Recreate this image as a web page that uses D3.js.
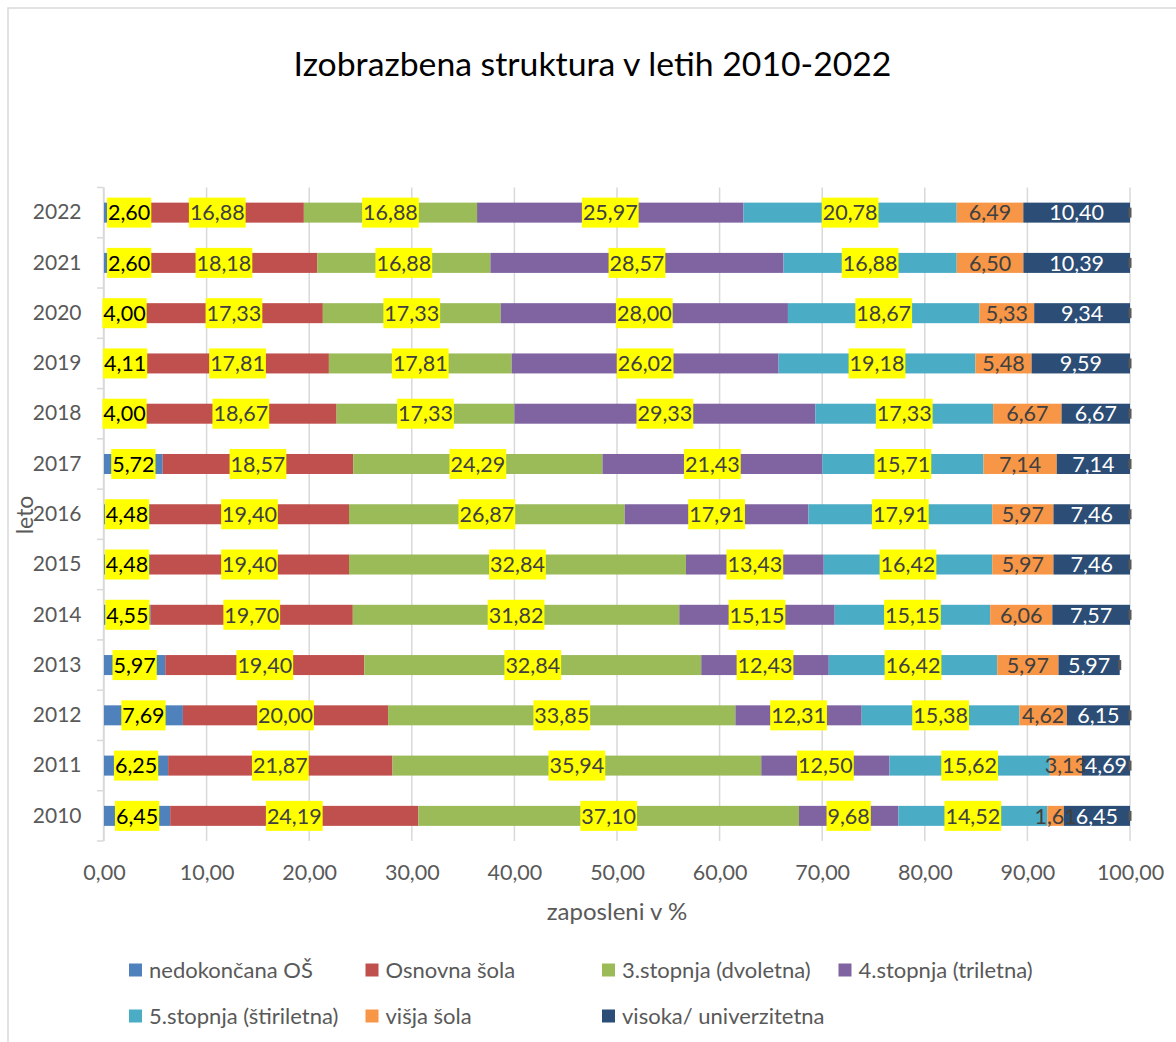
<!DOCTYPE html>
<html>
<head>
<meta charset="utf-8">
<script src="https://cdn.jsdelivr.net/npm/d3@7"></script>
<style>
  html, body { margin: 0; padding: 0; background: #fff; }
  svg { display: block; font-family: Lato, "Open Sans", sans-serif; }
</style>
</head>
<body>
<figure id="chart" style="margin:0"></figure>
<script>
// data (years bottom -> top)
const years = ["2010", "2011", "2012", "2013", "2014", "2015", "2016", "2017", "2018", "2019", "2020", "2021", "2022"];
const seriesNames = ["nedokončana OŠ", "Osnovna šola", "3.stopnja (dvoletna)", "4.stopnja (triletna)",
                     "5.stopnja (štiriletna)", "višja šola", "visoka/ univerzitetna"];
const nedokoncana = [6.45, 6.25, 7.69, 5.97, 4.55, 4.48, 4.48, 5.72, 4.00, 4.11, 4.00, 2.60, 2.60];
const osnovna     = [24.19, 21.87, 20.00, 19.40, 19.70, 19.40, 19.40, 18.57, 18.67, 17.81, 17.33, 18.18, 16.88];
const stopnja3    = [37.10, 35.94, 33.85, 32.84, 31.82, 32.84, 26.87, 24.29, 17.33, 17.81, 17.33, 16.88, 16.88];
const stopnja4    = [9.68, 12.50, 12.31, 12.43, 15.15, 13.43, 17.91, 21.43, 29.33, 26.02, 28.00, 28.57, 25.97];
const stopnja5    = [14.52, 15.62, 15.38, 16.42, 15.15, 16.42, 17.91, 15.71, 17.33, 19.18, 18.67, 16.88, 20.78];
const visja       = [1.61, 3.13, 4.62, 5.97, 6.06, 5.97, 5.97, 7.14, 6.67, 5.48, 5.33, 6.50, 6.49];
const visoka      = [6.45, 4.69, 6.15, 5.97, 7.57, 7.46, 7.46, 7.14, 6.67, 9.59, 9.34, 10.39, 10.40];
const xTicks = [0, 10, 20, 30, 40, 50, 60, 70, 80, 90, 100];

const colors = ["#4f81bd", "#c0504d", "#9bbb59", "#8064a2", "#4bacc6", "#f79646", "#2c4d75"];

const W = 1176, H = 1042;
const plotLeft = 104, plotRight = 1130, plotTop = 187.5, plotBottom = 841;

const allSeries = [nedokoncana, osnovna, stopnja3, stopnja4, stopnja5, visja, visoka];
const rows = years.map((yr, i) => {
  const r = { year: yr };
  seriesNames.forEach((s, k) => r[s] = allSeries[k][i]);
  return r;
});

const fmt = v => d3.format(".2f")(v).replace(".", ",");

const svg = d3.select("#chart").append("svg")
  .attr("width", W)
  .attr("height", H);

// chart border
svg.append("rect")
  .attr("x", 8).attr("y", 8)
  .attr("width", W + 10).attr("height", H + 10)
  .attr("fill", "none")
  .attr("stroke", "#d9d9d9")
  .attr("stroke-width", 1.5);

const x = d3.scaleLinear().domain([0, 100]).range([plotLeft, plotRight]);
const y = d3.scaleBand().domain(years.slice().reverse()).range([plotTop, plotBottom]);
const barH = 20;

// gridlines
svg.append("g")
  .selectAll("line")
  .data(xTicks)
  .join("line")
  .attr("x1", d => x(d)).attr("x2", d => x(d))
  .attr("y1", plotTop).attr("y2", plotBottom)
  .attr("stroke", "#d9d9d9")
  .attr("stroke-width", 1.5);

// y axis line + ticks between categories
svg.append("line")
  .attr("x1", plotLeft - 0.5).attr("x2", plotLeft - 0.5)
  .attr("y1", plotTop).attr("y2", plotBottom)
  .attr("stroke", "#d9d9d9").attr("stroke-width", 1.5);

const bounds = years.map((d, i) => plotTop + i * y.step()).concat([plotBottom]);
svg.append("g")
  .selectAll("line")
  .data(bounds)
  .join("line")
  .attr("x1", plotLeft - 7).attr("x2", plotLeft - 0.5)
  .attr("y1", d => d).attr("y2", d => d)
  .attr("stroke", "#d9d9d9").attr("stroke-width", 1.5);

// y labels
const yAxis = svg.append("g")
  .attr("transform", `translate(${plotLeft - 0.5},0)`)
  .call(d3.axisLeft(y).tickSize(0).tickPadding(22));
yAxis.select(".domain").remove();
yAxis.selectAll("text")
  .attr("fill", "#595959")
  .style("font-size", "21px")
  .style("font-family", "Lato, sans-serif");

// x labels
const xAxis = svg.append("g")
  .attr("transform", `translate(0,${plotBottom})`)
  .call(d3.axisBottom(x).tickValues(xTicks).tickSize(0).tickFormat(fmt));
xAxis.select(".domain").remove();
xAxis.selectAll("text")
  .attr("y", 31).attr("dy", "0.35em")
  .attr("fill", "#595959")
  .style("font-size", "21.5px")
  .style("font-family", "Lato, sans-serif");

// stacked bars
const stack = d3.stack().keys(seriesNames);
const layers = stack(rows);

svg.append("g")
  .selectAll("g")
  .data(layers)
  .join("g")
  .attr("fill", (d, i) => colors[i])
  .selectAll("rect")
  .data(d => d)
  .join("rect")
  .attr("x", d => x(d[0]))
  .attr("y", d => y(d.data.year) + (y.bandwidth() - barH) / 2)
  .attr("width", d => x(d[1]) - x(d[0]))
  .attr("height", barH);

// little marker at the end of every stack
svg.append("g")
  .selectAll("rect")
  .data(layers[layers.length - 1])
  .join("rect")
  .attr("x", d => x(d[1]) - 1.5)
  .attr("y", d => y(d.data.year) + y.bandwidth() / 2 - 5)
  .attr("width", 3).attr("height", 10)
  .attr("fill", "#595959");

// data labels
layers.forEach((layer, k) => {
  const g = svg.append("g");
  layer.forEach(d => {
    const cy = y(d.data.year) + y.bandwidth() / 2;
    let cx = (x(d[0]) + x(d[1])) / 2;
    const lg = g.append("g");
    const t = lg.append("text")
      .attr("y", cy)
      .attr("dy", "0.36em")
      .attr("text-anchor", "middle")
      .style("font-size", "21.5px")
      .attr("fill", k === 0 ? "#000" : (k === 6 ? "#fff" : "#404040"))
      .text(fmt(d[1] - d[0]));
    const w = t.node().getComputedTextLength();
    // labels that would hang far past the axis are nudged inside
    if (cx - w / 2 < plotLeft - 4) cx = plotLeft + 4 + w / 2;
    t.attr("x", cx);
    if (k < 5) {
      lg.insert("rect", "text")
        .attr("x", cx - w / 2 - 1)
        .attr("y", cy - 15)
        .attr("width", w + 2)
        .attr("height", 30)
        .attr("fill", "#ffff00");
    }
  });
});

// title
const title = svg.append("text")
  .attr("x", 592.5).attr("y", 76)
  .attr("text-anchor", "middle")
  .attr("fill", "#000")
  .style("font-size", "30px")
  .text("Izobrazbena struktura v letih 2010-2022");
const tw = title.node().getComputedTextLength();
title.style("font-size", (30 * 598 / tw) + "px");

// axis titles
svg.append("text")
  .attr("x", (plotLeft + plotRight) / 2).attr("y", 912)
  .attr("dy", "0.35em")
  .attr("text-anchor", "middle")
  .attr("fill", "#595959")
  .style("font-size", "24px")
  .text("zaposleni v %");

svg.append("text")
  .attr("transform", "translate(33,515) rotate(-90)")
  .attr("text-anchor", "middle")
  .attr("fill", "#595959")
  .style("font-size", "23px")
  .text("leto");

// legend: 4 columns x 2 rows
const legend = svg.append("g")
  .selectAll("g")
  .data(seriesNames)
  .join("g")
  .attr("transform", (d, i) => `translate(${129 + (i % 4) * 236.5},${970 + Math.floor(i / 4) * 46})`);
legend.append("rect")
  .attr("x", 0).attr("y", -6.5)
  .attr("width", 13).attr("height", 13)
  .attr("fill", (d, i) => colors[i]);
legend.append("text")
  .attr("x", 20).attr("dy", "0.35em")
  .attr("fill", "#595959")
  .style("font-size", "22px")
  .text(d => d);
</script>
</body>
</html>
